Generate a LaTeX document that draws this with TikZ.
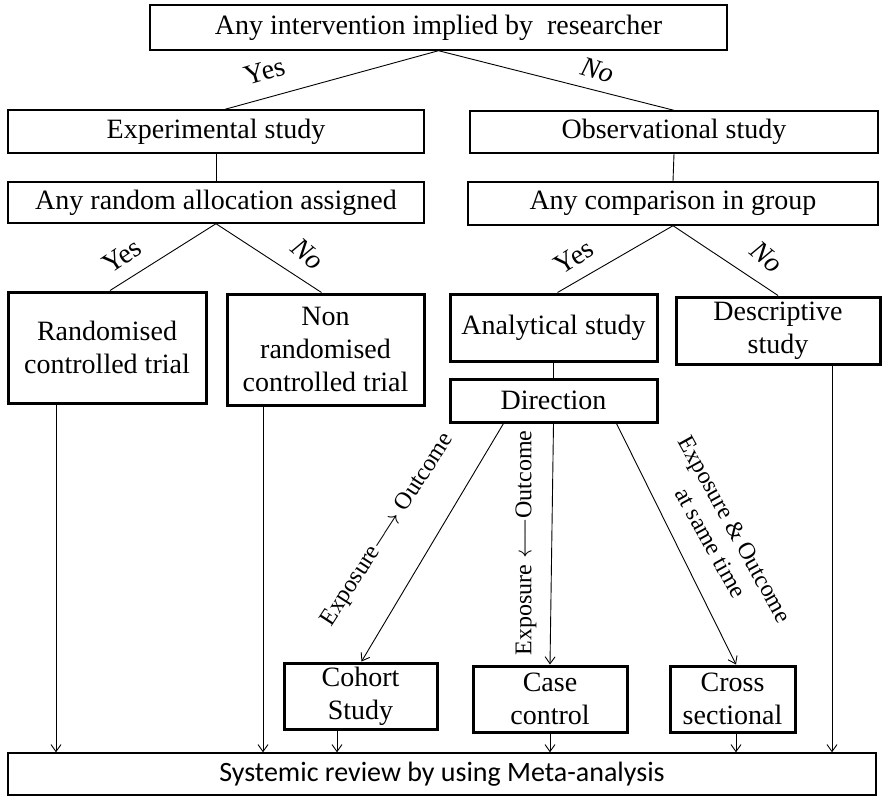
\documentclass[tikz,border=0pt]{standalone}
\usepackage{fontspec}
\setmainfont{Liberation Serif}
\newfontfamily\metafont{Carlito}
\usetikzlibrary{arrows.meta,calc}
\tikzset{
  thinbox/.style={draw,line width=1.4pt,inner sep=0pt,align=center,font=\fontsize{28}{33}\selectfont},
  thickbox/.style={thinbox,line width=3pt},
  link/.style={line width=0.9pt},
  arrowlink/.style={line width=0.9pt,-{Straight Barb[length=7pt,width=10pt]}},
  answer/.style={inner sep=0pt,font=\fontsize{28}{30}\selectfont},
  dirlabel/.style={inner sep=0pt,align=center,font=\fontsize{24}{28}\selectfont}
}

\begin{document}
\begin{tikzpicture}[x=1pt,y=-1pt]
  \useasboundingbox (0,0) rectangle (884,796);
  % first level
  \node[thinbox,minimum width=577,minimum height=45] (interv) at (438.5,27.5) {Any intervention implied by\ \ researcher};
  \node[thinbox,minimum width=416,minimum height=43] (expt) at (216,131.5) {Experimental study};
  \node[thinbox,minimum width=408,minimum height=42] (obs) at (674,132) {Observational study};
  \node[thinbox,minimum width=416,minimum height=41] (random) at (216,202.5) {Any random allocation assigned};
  \node[thinbox,minimum width=410,minimum height=43] (compare) at (673,203.5) {Any comparison in group};
  % study types
  \node[thickbox,minimum width=198,minimum height=111] (rct) at (107,347.5) {Randomised\\controlled trial};
  \node[thickbox,minimum width=197,minimum height=111] (nrct) at (325.5,349.5) {Non\\randomised\\controlled trial};
  \node[thickbox,minimum width=207,minimum height=67] (analytic) at (553.5,327.5) {Analytical study};
  \node[thickbox,minimum width=204,minimum height=67] (descr) at (778,330.5) {Descriptive\\study};
  \node[thickbox,minimum width=207,minimum height=43] (direct) at (553.5,400.5) {Direction};
  \node[thickbox,minimum width=153,minimum height=66] (cohort) at (360.5,696) {Cohort\\Study};
  \node[thickbox,minimum width=154,minimum height=66] (casectl) at (550,699) {Case\\control};
  \node[thickbox,minimum width=125,minimum height=66] (crosssec) at (732.5,699) {Cross\\sectional};
  \node[draw,line width=1.4pt,inner sep=0pt,minimum width=868,minimum height=42,font=\metafont\fontsize{28}{30}\selectfont] (meta) at (442,774) {Systemic review by using Meta-analysis};
  % yes / no
  \node[answer,rotate=16] (yesA) at (265,71) {Yes};
  \node[answer,rotate=-16] (noA) at (598,70) {\itshape No};
  \node[answer,rotate=34] (yesB) at (122,256) {Yes};
  \node[answer,rotate=-40] (noB) at (308,254) {\itshape No};
  \node[answer,rotate=32] (yesC) at (574,257) {Yes};
  \node[answer,rotate=-40] (noC) at (767,257) {\itshape No};
  % direction labels
  \node[dirlabel,rotate=57] (fwd) at (388,530) {Exposure$\longrightarrow$\ Outcome};
  \node[dirlabel,rotate=90] (bwd) at (526,543) {Exposure $\longleftarrow$Outcome};
  \node[dirlabel,rotate=-61] (same) at (723,536) {Exposure \& Outcome\\at same time};
  % connectors
  \draw[link] (interv.south) -- ([xshift=9]expt.north);
  \draw[link] (interv.south) -- (obs.north);
  \draw[link] (expt.south) -- (random.north);
  \draw[link] (obs.south) -- (compare.north);
  \draw[link] (random.south) -- ([xshift=3]rct.north);
  \draw[link] (random.south) -- ([xshift=-4]nrct.north);
  \draw[link] (compare.south) -- ([xshift=4]analytic.north);
  \draw[link] (compare.south) -- (descr.north);
  \draw[link] (analytic.south) -- (direct.north);
  \draw[arrowlink] ([xshift=-50]direct.south) -- ([xshift=1]cohort.north);
  \draw[arrowlink] (direct.south) -- (casectl.north);
  \draw[arrowlink] ([xshift=63]direct.south) -- ([xshift=3.5]crosssec.north);
  \draw[arrowlink] ([xshift=-51]rct.south) -- ([xshift=-51]rct.south |- meta.north);
  \draw[arrowlink] ([xshift=-62.5]nrct.south) -- ([xshift=-62.5]nrct.south |- meta.north);
  \draw[arrowlink] ([xshift=-23.5]cohort.south) -- ([xshift=-23.5]cohort.south |- meta.north);
  \draw[arrowlink] (casectl.south) -- (casectl.south |- meta.north);
  \draw[arrowlink] ([xshift=3.5]crosssec.south) -- ([xshift=3.5]crosssec.south |- meta.north);
  \draw[arrowlink] ([xshift=54]descr.south) -- ([xshift=54]descr.south |- meta.north);
\end{tikzpicture}
\end{document}
